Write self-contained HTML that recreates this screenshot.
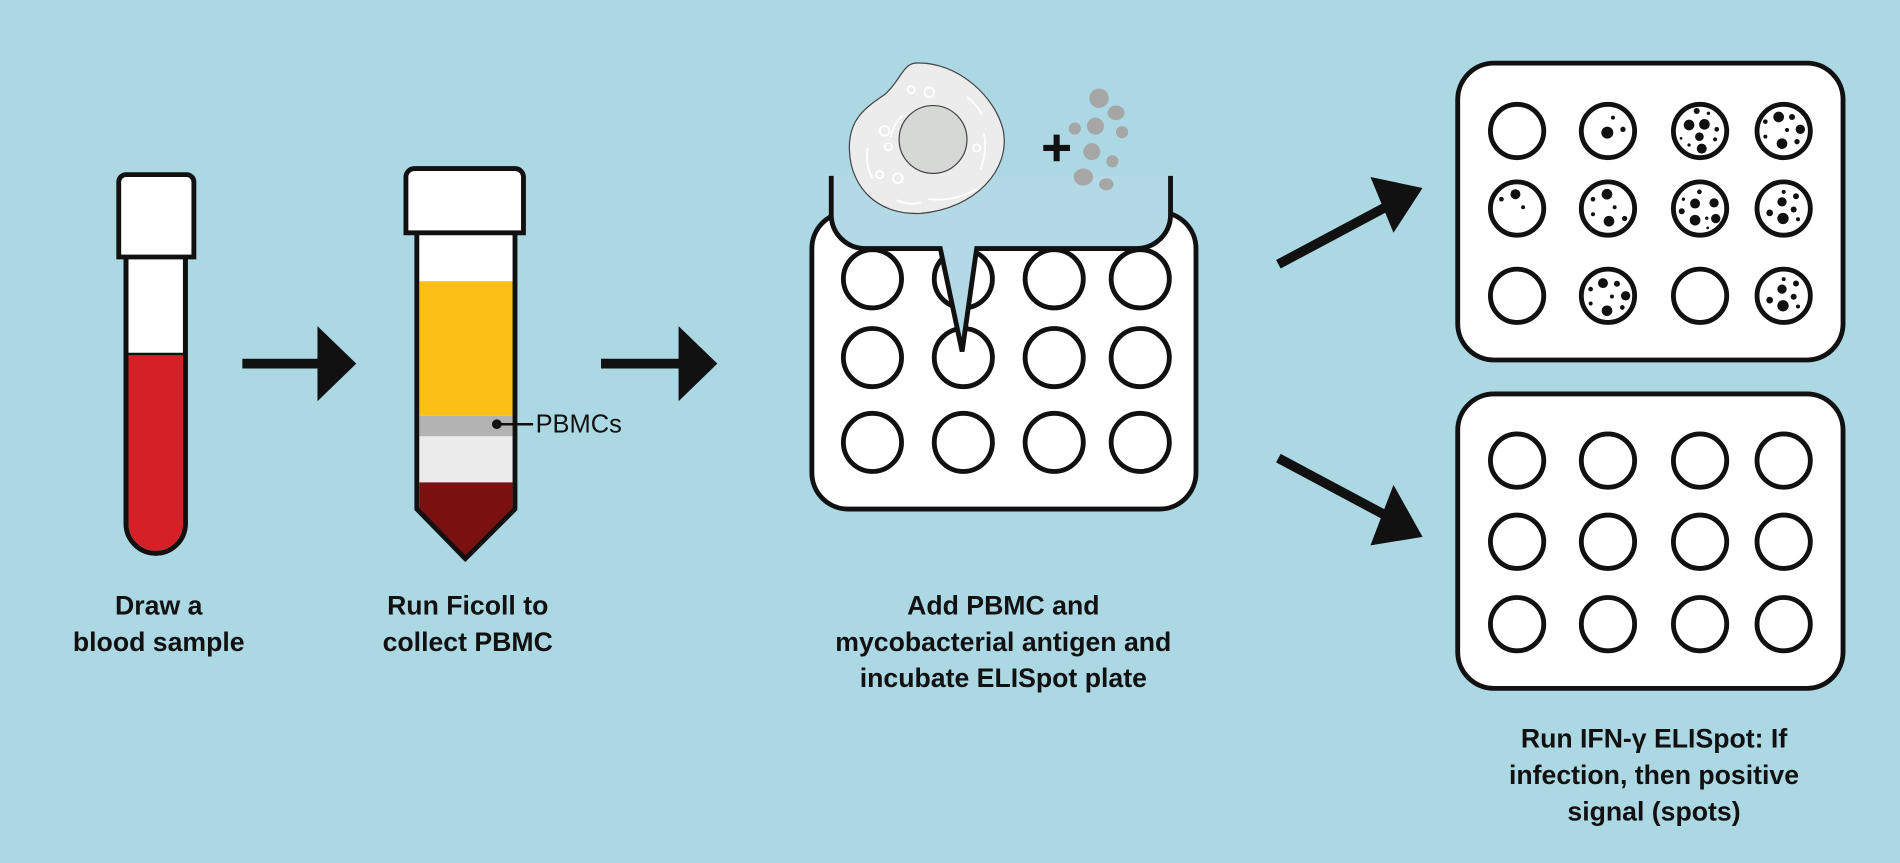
<!DOCTYPE html>
<html><head><meta charset="utf-8"><style>
html,body{margin:0;padding:0;background:#acd8e4;}
svg{display:block}
text{font-family:"Liberation Sans",sans-serif;font-weight:bold;font-size:22px;fill:#111;text-anchor:middle}
</style></head><body>
<svg id="s" width="1900" height="863" viewBox="0 0 1568 712" xmlns="http://www.w3.org/2000/svg">
<rect width="1568" height="712" fill="#acd8e4"/>
<!-- tube 1 -->
<path d="M104 212 V432 a24.5 24.5 0 0 0 49 0 V212" fill="#fff" stroke="#111" stroke-width="4"/>
<path d="M106 292 H151 V432 a22.5 22.5 0 0 1 -45 0 Z" fill="#d52027"/>
<line x1="106" y1="292" x2="151" y2="292" stroke="#111" stroke-width="2"/>
<path d="M104 212 V432 a24.5 24.5 0 0 0 49 0 V212" fill="none" stroke="#111" stroke-width="4"/>
<path d="M98 150 a6 6 0 0 1 6 -6 h50 a6 6 0 0 1 6 6 V212 H98 Z" fill="#fff" stroke="#111" stroke-width="4"/>
<!-- arrow 1 -->
<line x1="200" y1="300" x2="265" y2="300" stroke="#111" stroke-width="8"/>
<polygon points="262,269 294,300 262,331" fill="#111"/>
<!-- tube 2 -->
<path d="M344 192 V420 L384 461 L425 420 V192" fill="#fff"/>
<rect x="346" y="232" width="77" height="111" fill="#fbbf16"/>
<rect x="346" y="343" width="77" height="17" fill="#b3b3b3"/>
<rect x="346" y="360" width="77" height="38" fill="#ebebeb"/>
<path d="M346 398 H423 V420 L384 459 L346 420 Z" fill="#7b1010"/>
<path d="M344 192 V420 L384 461 L425 420 V192" fill="none" stroke="#111" stroke-width="4"/>
<path d="M335 146 a7 7 0 0 1 7 -7 h83 a7 7 0 0 1 7 7 V192 H335 Z" fill="#fff" stroke="#111" stroke-width="4"/>
<line x1="410" y1="350" x2="440" y2="350" stroke="#111" stroke-width="2"/>
<circle cx="410" cy="350" r="4" fill="#111"/>
<text x="442" y="357" style="font-weight:normal;text-anchor:start;font-size:21px">PBMCs</text>
<!-- arrow 2 -->
<line x1="496" y1="300" x2="563" y2="300" stroke="#111" stroke-width="8"/>
<polygon points="560,269 592,300 560,331" fill="#111"/>
<!-- middle plate -->
<rect x="670" y="175" width="317" height="245" rx="30" fill="#fff" stroke="#111" stroke-width="4"/>
<g id="midwells" fill="none" stroke="#111" stroke-width="4"></g>
<!-- bubble -->
<path d="M686 145 h280 v33 a28 28 0 0 1 -28 25 h-224 a28 28 0 0 1 -28 -25Z" fill="#b3d9e6"/>
<path d="M686 145 V178 a28 28 0 0 0 28 27 H776 L794 290 L806 205 H938 a28 28 0 0 0 28 -27 V145" fill="#b3d9e6" stroke="#111" stroke-width="4"/>
<!-- cell -->
<path d="M755 52 C790 50 822 80 828 108 C834 140 805 172 760 176 C725 178 702 155 701 124 C700 100 712 90 730 78 C742 68 745 53 755 52Z" fill="#ececec" stroke="#444" stroke-width="1"/>
<circle cx="770" cy="115" r="28" fill="#d6d8d6" stroke="#444" stroke-width="1"/>
<g fill="none" stroke="#fff" stroke-width="1.5">
<circle cx="752" cy="74" r="3"/><circle cx="767" cy="76" r="4"/><circle cx="730" cy="108" r="4"/><circle cx="733" cy="121" r="3"/>
<circle cx="806" cy="122" r="3"/><circle cx="741" cy="147" r="4"/><circle cx="726" cy="144" r="3"/>
<path d="M716 122 q-2 15 4 25 M766 164 q20 3 40 -8 M812 110 q3 15 -3 30 M798 80 q10 8 12 15 M745 95 q-8 8 -10 18 M740 165 q10 5 20 2"/>
</g>
<path d="M861 122 h22 M872 111 v22" stroke="#111" stroke-width="5"/>
<g fill="#a6a6a6">
<ellipse cx="907" cy="81" rx="8" ry="8"/><ellipse cx="921" cy="93" rx="7" ry="6"/><ellipse cx="904" cy="104" rx="7" ry="7"/>
<ellipse cx="887" cy="106" rx="5" ry="5"/><ellipse cx="926" cy="109" rx="5" ry="5"/><ellipse cx="901" cy="125" rx="7" ry="7"/>
<ellipse cx="918" cy="133" rx="5" ry="5"/><ellipse cx="894" cy="146" rx="8" ry="7"/><ellipse cx="913" cy="152" rx="6" ry="5"/>
</g>
<!-- right arrows -->
<line x1="1055" y1="218" x2="1145" y2="170" stroke="#111" stroke-width="8"/>
<polygon points="1131,146 1174,155 1150,192" fill="#111"/>
<line x1="1055" y1="378" x2="1145" y2="426" stroke="#111" stroke-width="8"/>
<polygon points="1150,400 1174,443 1131,450" fill="#111"/>
<!-- right plates -->
<rect x="1203" y="52" width="318" height="245" rx="30" fill="#fff" stroke="#111" stroke-width="4"/>
<rect x="1203" y="325" width="318" height="243" rx="30" fill="#fff" stroke="#111" stroke-width="4"/>
<g id="rw" fill="none" stroke="#111" stroke-width="4"></g>
<g id="spots" fill="#111"></g>
<!-- labels -->
<text x="131" y="507">Draw a</text><text x="131" y="537">blood sample</text>
<text x="386" y="507">Run Ficoll to</text><text x="386" y="537">collect PBMC</text>
<text x="828" y="507">Add PBMC and</text><text x="828" y="537">mycobacterial antigen and</text><text x="828" y="567">incubate ELISpot plate</text>
<text x="1365" y="617">Run IFN-γ ELISpot: If</text><text x="1365" y="647">infection, then positive</text><text x="1365" y="677">signal (spots)</text>
</svg>
<script>
var NS="http://www.w3.org/2000/svg";
function c(g,x,y,r){var e=document.createElementNS(NS,"circle");e.setAttribute("cx",x);e.setAttribute("cy",y);e.setAttribute("r",r);document.getElementById(g).appendChild(e);}
[720,795,870,941].forEach(function(x){[230,295,365].forEach(function(y){c("midwells",x,y,24);});});
var cx=[1252,1327,1403,1472];
[108,172,244,380,447,515].forEach(function(y){cx.forEach(function(x){c("rw",x,y,22);});});
var k=0.275;
var S={ "0,1":[[510,200],[[508,205,18],[555,195,8],[525,160,6]]],
"0,2":[[785,200],[[752,182,16],[798,180,16],[783,217,13],[790,253,15],[775,140,9],[810,147,5],[835,195,7],[728,222,4],[752,242,5],[830,225,6]]],
"0,3":[[1040,200],[[1025,158,16],[1065,158,9],[985,172,7],[1090,195,14],[1050,197,6],[985,217,6],[1035,238,16],[1080,232,8]]],
"1,0":[[235,450],[[230,407,15],[188,422,7],[253,446,6]]],
"1,1":[[510,450],[[507,407,16],[465,422,7],[530,446,6],[465,467,6],[513,488,16],[560,480,8]]],
"1,2":[[785,450],[[783,400,7],[735,422,5],[770,435,15],[827,433,14],[730,458,9],[770,485,16],[805,479,5],[832,480,14],[808,508,4]]],
"1,3":[[1040,450],[[1040,400,6],[1077,413,9],[1035,430,14],[1070,453,9],[998,463,10],[1038,480,17],[1083,482,6]]],
"2,1":[[510,710],[[495,672,15],[537,674,9],[458,690,7],[522,712,6],[563,710,14],[458,733,6],[507,755,16],[553,745,7]]],
"2,3":[[1040,710],[[1040,660,6],[1077,673,9],[1035,690,14],[1070,713,9],[998,723,10],[1038,740,17],[1083,742,6]]]};
var ry=[108,172,244];
for(var key in S){var p=key.split(","),r=+p[0],col=+p[1],ctr=S[key][0];
S[key][1].forEach(function(d){c("spots",cx[col]+(d[0]-ctr[0])*k,ry[r]+(d[1]-ctr[1])*k,d[2]*k);});}
</script>
</body></html>
